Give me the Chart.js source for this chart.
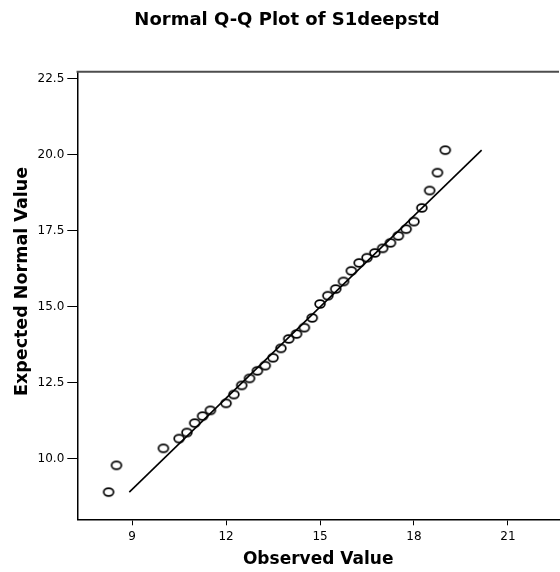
<!DOCTYPE html>
<html>
<head>
<meta charset="utf-8">
<title>Normal Q-Q Plot of S1deepstd</title>
<script src="https://cdn.jsdelivr.net/npm/chart.js@4.4.1/dist/chart.umd.min.js"></script>
<style>
  html, body { margin: 0; padding: 0; background: #fff; overflow: hidden; }
  canvas { display: block; }
</style>
</head>
<body>
<canvas id="qq" width="565" height="572"></canvas>
<script>
// Observed S1deepstd values and their expected normal quantiles
const observed = [8.25, 8.5, 10.0, 10.5, 10.75, 11.0, 11.25, 11.5, 12.0, 12.25,
                  12.5, 12.75, 13.0, 13.25, 13.5, 13.75, 14.0, 14.25, 14.5, 14.75,
                  15.0, 15.25, 15.5, 15.75, 16.0, 16.25, 16.5, 16.75, 17.0, 17.25,
                  17.5, 17.75, 18.0, 18.25, 18.5, 18.75, 19.0];
const expected = [8.91, 9.79, 10.35, 10.67, 10.87, 11.18, 11.41, 11.60, 11.83, 12.12,
                  12.42, 12.65, 12.90, 13.07, 13.33, 13.64, 13.95, 14.11, 14.32, 14.64,
                  15.10, 15.37, 15.59, 15.84, 16.19, 16.45, 16.62, 16.78, 16.93, 17.11,
                  17.34, 17.56, 17.81, 18.26, 18.83, 19.42, 20.16];

// Axis tick labels
const xTicks = [9, 12, 15, 18, 21];
const yTicks = [10.0, 12.5, 15.0, 17.5, 20.0, 22.5];

// Reference line y = x across the range of expected values
const lineLo = Math.min(...expected);
const lineHi = Math.max(...expected);

// Open oval marker
function ringMarker() {
  const c = document.createElement('canvas');
  c.width = 14; c.height = 12;
  const g = c.getContext('2d');
  g.strokeStyle = '#000';
  g.lineWidth = 1.7;
  g.beginPath();
  g.ellipse(7, 6, 4.9, 3.9, 0, 0, Math.PI * 2);
  g.stroke();
  return c;
}

// Upper frame line of the plot area and the vertical axis title
const frameAndTitle = {
  id: 'frameAndTitle',
  afterDraw(chart) {
    const { ctx, chartArea: a } = chart;
    ctx.save();
    ctx.strokeStyle = '#4d4d4d';
    ctx.lineWidth = 2;
    ctx.beginPath();
    ctx.moveTo(a.left - 0.75, a.top);
    ctx.lineTo(a.right, a.top);
    ctx.stroke();

    const yScale = chart.scales.y;
    ctx.translate(yScale.left + 13, (a.top + a.bottom) / 2 - 14);
    ctx.rotate(-Math.PI / 2);
    ctx.fillStyle = '#000';
    ctx.font = 'bold 17.5px "DejaVu Sans"';
    ctx.textAlign = 'center';
    ctx.textBaseline = 'middle';
    ctx.fillText('Expected Normal Value', 0, 0);
    ctx.restore();
  }
};

Chart.defaults.font.family = 'DejaVu Sans';
Chart.defaults.color = '#000';

new Chart(document.getElementById('qq'), {
  type: 'scatter',
  data: {
    datasets: [
      {
        label: 'Observed',
        data: observed.map((x, i) => ({ x, y: expected[i] })),
        pointStyle: ringMarker(),
        pointRadius: 5,
        borderColor: '#000',
        backgroundColor: 'rgba(0,0,0,0)',
        order: 1
      },
      {
        type: 'line',
        label: 'Reference',
        data: [{ x: lineLo, y: lineLo }, { x: lineHi, y: lineHi }],
        borderColor: '#000',
        borderWidth: 1.6,
        pointRadius: 0,
        fill: false,
        order: 2
      }
    ]
  },
  options: {
    responsive: false,
    animation: false,
    layout: { padding: { left: 9, right: 0, top: 0, bottom: 0 } },
    plugins: {
      legend: { display: false },
      tooltip: { enabled: false },
      title: {
        display: true,
        text: 'Normal Q-Q Plot of S1deepstd',
        color: '#000',
        font: { size: 18, weight: 'bold' },
        padding: { top: 10, bottom: 40.1 }
      }
    },
    scales: {
      x: {
        type: 'linear',
        position: 'bottom',
        min: 7.25,
        max: 22.63,
        afterBuildTicks: s => { s.ticks = xTicks.map(v => ({ value: v })); },
        afterFit: s => { s.height = 52.7; },
        ticks: { font: { size: 12 }, padding: 4, callback: v => String(v) },
        grid: { drawOnChartArea: false, drawTicks: true, tickLength: 6, color: '#000', lineWidth: 1 },
        border: { display: true, color: '#000', width: 1.5 },
        title: {
          display: true,
          text: 'Observed Value',
          font: { size: 17, weight: 'bold' },
          padding: { top: 0, bottom: 2 }
        }
      },
      y: {
        type: 'linear',
        min: 8.016,
        max: 22.74,
        afterBuildTicks: s => { s.ticks = yTicks.map(v => ({ value: v })); },
        afterFit: s => { s.width = 68.3; },
        ticks: { font: { size: 12 }, padding: 3, callback: v => Number(v).toFixed(1) },
        grid: { drawOnChartArea: false, drawTicks: true, tickLength: 10, color: '#000', lineWidth: 1 },
        border: { display: true, color: '#000', width: 1.5 },
        title: { display: false }
      }
    }
  },
  plugins: [frameAndTitle]
});
</script>
</body>
</html>
